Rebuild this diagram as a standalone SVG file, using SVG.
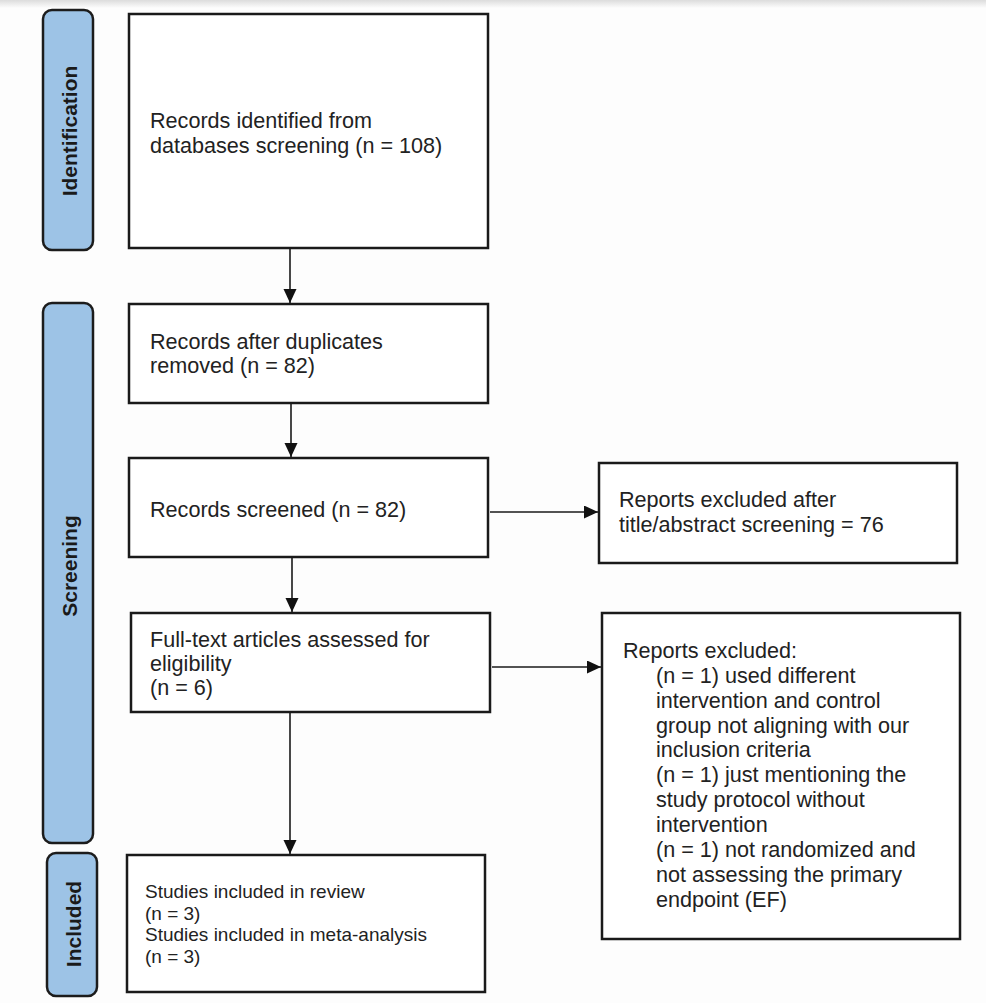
<svg xmlns="http://www.w3.org/2000/svg" width="986" height="1003" viewBox="0 0 986 1003">
<defs>
<style>
.bg{fill:#fdfdfd}
.pill{fill:#9dc3e6;stroke:#1c1c1c;stroke-width:2.5}
.box{fill:#ffffff;stroke:#1a1a1a;stroke-width:2.5}
.lbl{font-family:"Liberation Sans",Arial,sans-serif;font-weight:bold;font-size:21px;fill:#1a1a1a;text-anchor:middle;dominant-baseline:central}
.t{font-family:"Liberation Sans",Arial,sans-serif;font-size:21.6px;fill:#222222}
.ts{font-family:"Liberation Sans",Arial,sans-serif;font-size:19px;fill:#222222}
.c{stroke:#1a1a1a;stroke-width:1.6;fill:none}
</style>
<marker id="ah" markerUnits="userSpaceOnUse" markerWidth="14" markerHeight="14" refX="14" refY="6.5" orient="auto">
<path d="M0,0 L14,6.5 L0,13 z" fill="#111111"/>
</marker>
<linearGradient id="topg" x1="0" y1="0" x2="0" y2="1">
<stop offset="0" stop-color="#dcdcdc"/>
<stop offset="1" stop-color="#fdfdfd"/>
</linearGradient>
</defs>
<rect class="bg" x="0" y="0" width="986" height="1003"/>
<rect x="0" y="0" width="986" height="8" fill="url(#topg)"/>

<g id="phase-identification">
<rect class="pill" x="43" y="10" width="50" height="240" rx="9"/>
<text class="lbl" transform="translate(69,131) rotate(-90)">Identification</text>
</g>
<g id="phase-screening">
<rect class="pill" x="43" y="303" width="50" height="540" rx="9"/>
<text class="lbl" transform="translate(69,566) rotate(-90)">Screening</text>
</g>
<g id="phase-included">
<rect class="pill" x="47" y="853" width="50" height="143" rx="9"/>
<text class="lbl" transform="translate(73,924) rotate(-90)">Included</text>
</g>

<g id="n-identified">
<rect class="box" x="129" y="14" width="359" height="234"/>
<text class="t" x="150" y="128">Records identified from</text>
<text class="t" x="150" y="153">databases screening (n = 108)</text>
</g>
<g id="n-duplicates">
<rect class="box" x="129" y="304" width="359" height="99"/>
<text class="t" x="150" y="349">Records after duplicates</text>
<text class="t" x="150" y="373">removed (n = 82)</text>
</g>
<g id="n-screened">
<rect class="box" x="129" y="458" width="359" height="99"/>
<text class="t" x="150" y="517">Records screened (n = 82)</text>
</g>
<g id="n-fulltext">
<rect class="box" x="131" y="613" width="359" height="99"/>
<text class="t" x="150" y="647">Full-text articles assessed for</text>
<text class="t" x="150" y="671">eligibility</text>
<text class="t" x="150" y="695">(n = 6)</text>
</g>
<g id="n-included">
<rect class="box" x="127" y="855" width="358" height="137"/>
<text class="ts" x="145" y="898">Studies included in review</text>
<text class="ts" x="145" y="920">(n = 3)</text>
<text class="ts" x="145" y="941">Studies included in meta-analysis</text>
<text class="ts" x="145" y="963">(n = 3)</text>
</g>
<g id="n-excluded-title">
<rect class="box" x="599" y="463" width="358" height="100"/>
<text class="t" x="619" y="507">Reports excluded after</text>
<text class="t" x="619" y="532">title/abstract screening = 76</text>
</g>
<g id="n-excluded-full">
<rect class="box" x="602" y="613" width="358" height="326"/>
<text class="t" x="623" y="658">Reports excluded:</text>
<text class="t" x="656" y="683">(n = 1) used different</text>
<text class="t" x="656" y="708">intervention and control</text>
<text class="t" x="656" y="733">group not aligning with our</text>
<text class="t" x="656" y="757">inclusion criteria</text>
<text class="t" x="656" y="782">(n = 1) just mentioning the</text>
<text class="t" x="656" y="807">study protocol without</text>
<text class="t" x="656" y="832">intervention</text>
<text class="t" x="656" y="857">(n = 1) not randomized and</text>
<text class="t" x="656" y="882">not assessing the primary</text>
<text class="t" x="656" y="907">endpoint (EF)</text>
</g>

<g id="connectors">
<line class="c" x1="290" y1="248" x2="290" y2="303" marker-end="url(#ah)"/>
<line class="c" x1="291" y1="403" x2="291" y2="457" marker-end="url(#ah)"/>
<line class="c" x1="292" y1="557" x2="292" y2="612" marker-end="url(#ah)"/>
<line class="c" x1="290" y1="712" x2="290" y2="854" marker-end="url(#ah)"/>
<line class="c" x1="490" y1="512" x2="598" y2="512" marker-end="url(#ah)"/>
<line class="c" x1="492" y1="667" x2="601" y2="667" marker-end="url(#ah)"/>
</g>
</svg>
